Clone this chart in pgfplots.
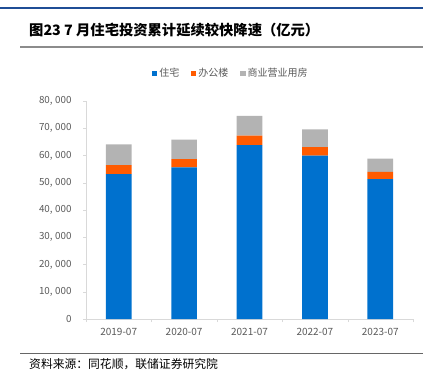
\documentclass[border=0pt]{standalone}
\usepackage{pgfplots}
\pgfplotsset{compat=1.18}
\usepackage{fontspec}
\setmainfont{Noto Sans CJK SC}
\definecolor{cblue}{HTML}{0071CE}
\definecolor{corange}{HTML}{FF5B00}
\definecolor{cgrey}{HTML}{B3B3B3}
\definecolor{axgrey}{HTML}{D9D9D9}
\definecolor{txtgrey}{HTML}{595959}
\definecolor{topblue}{HTML}{1F4E96}
\begin{document}
\begin{tikzpicture}[x=1pt,y=1pt]
\path[use as bounding box] (0pt,0pt) rectangle (423pt,378pt);
\draw[topblue,line width=1.6pt] (0pt,370pt) -- (423pt,370pt);
\node[anchor=west,inner sep=0pt,font=\fontsize{14.3}{16}\selectfont\bfseries] at (29pt,348pt) {图23 7 月住宅投资累计延续较快降速（亿元）};
\draw[black!45,line width=1.6pt] (20pt,331pt) -- (423pt,331pt);
\draw[black!60,line width=1pt] (20pt,25pt) -- (423pt,25pt);
\node[anchor=west,inner sep=0pt,font=\fontsize{11.8}{13}\selectfont] at (29pt,14pt) {资料来源：同花顺，联储证券研究院};
\begin{axis}[
  at={(86pt,59pt)}, anchor=south west,
  scale only axis, width=327pt, height=218pt,
  ybar stacked, bar width=25.7pt,
  xmin=-0.5, xmax=4.5, ymin=0, ymax=80000,
  axis x line*=bottom, axis y line*=left,
  axis line style={axgrey,-},
  xtick={0,1,2,3,4},
  xticklabels={2019-07,2020-07,2021-07,2022-07,2023-07},
  major x tick style={draw=none},
  minor xtick={-0.5,0.5,1.5,2.5,3.5,4.5},
  minor x tick style={axgrey},
  minor tick length=3pt,
  ytick={0,10000,...,80000},
  y tick style={axgrey},
  major tick length=3pt,
  tick align=outside,
  scaled y ticks=false,
  /pgf/number format/1000 sep={,\hspace{2.5pt}},
  /pgf/number format/assume math mode=true,
  ticklabel style={text=txtgrey},
  xticklabel style={yshift=-3pt, font=\fontsize{10}{11}\selectfont},
  yticklabel style={xshift=-8pt, font=\fontsize{9.8}{11}\selectfont},
  legend style={at={(0.443,1.128)}, anchor=center, draw=none, fill=none,
    legend columns=-1, font=\fontsize{10}{11}\selectfont, text=txtgrey,
    /tikz/every even column/.append style={column sep=10pt}},
  legend image code/.code={\fill[#1,draw=none] (0pt,-2.6pt) rectangle (5.2pt,2.6pt);},
  legend cell align=left,
  every axis plot/.append style={draw=none},
]
\addplot[fill=cblue] coordinates {(0,53200) (1,55600) (2,63800) (3,60000) (4,51300)};
\addplot[fill=corange] coordinates {(0,3300) (1,3100) (2,3500) (3,3100) (4,2700)};
\addplot[fill=cgrey] coordinates {(0,7600) (1,7100) (2,7200) (3,6500) (4,4900)};
\legend{住宅,办公楼,商业营业用房}
\end{axis}
\end{tikzpicture}
\end{document}
